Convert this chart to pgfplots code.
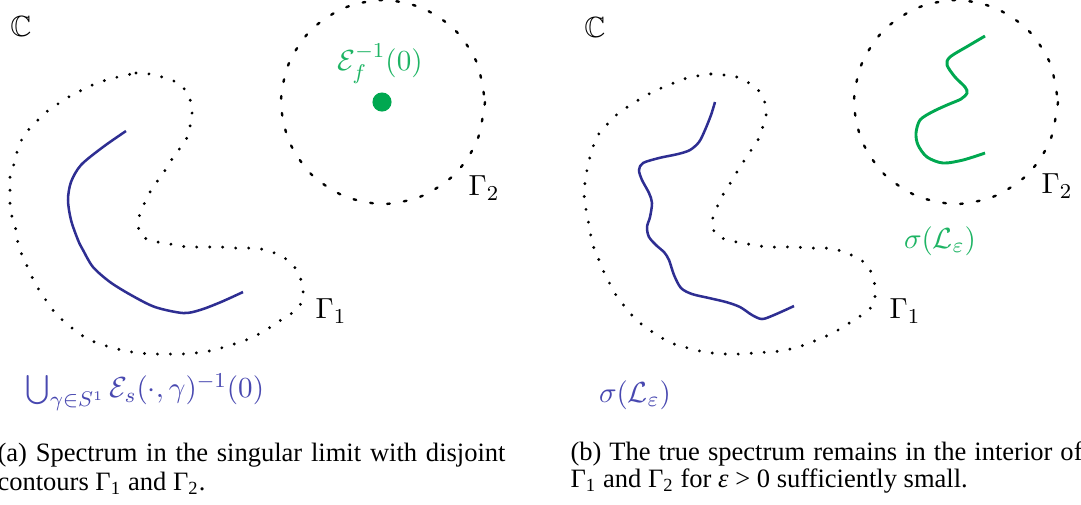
\documentclass[border=0pt]{standalone}
\usepackage{amssymb}
\usepackage{fontspec}
\setmainfont{Liberation Serif}
\usepackage{pgfplots}
\pgfplotsset{compat=1.18}

\newdimen\px \px=0.377pt
\definecolor{curveblue}{RGB}{46,46,146}
\definecolor{labelblue}{RGB}{72,72,176}
\definecolor{curvegreen}{RGB}{0,168,80}
\definecolor{labelgreen}{RGB}{30,180,100}

\tikzset{
  kidney/.style={black, line width=1.2pt, line cap=round, dash pattern=on 0pt off 4.9pt, smooth},
  ringdots/.style={black, line width=0.9pt, line cap=round, dash pattern=on 1.0pt off 5.4pt, smooth},
  lbl/.style={font=\fontsize{11}{13}\selectfont, inner sep=0pt},
  captext/.style={font=\fontsize{10}{12}\selectfont, inner sep=0pt, anchor=base west},
}

\begin{document}
\begin{tikzpicture}
\begin{axis}[
    width=1081\px, height=504\px,
    scale only axis,
    xmin=0, xmax=1081, ymin=0, ymax=504,
    y dir=reverse,
    hide axis,
    clip=false,
]

% ---- (a) ----
% Gamma_1
\addplot[kidney] coordinates {
  (136,73)(150,74)(162,77)(176,82)(186,91)(191,103)(192,116)(189,130)(185,142)
  (176,153)(169,164)(162,175)(153,187)(147,198)(141,211)(138,223)(141,235)
  (152,241)(166,243)(179,246)(193,247)(207,247)(221,247)(234,248)(248,248)(261,249)
  (272,252)(283,257)(293,265)(300,277)(303,290)(302,302)(292,313)(281,320)(269,328)
  (257,335)(246,340)(234,344)(221,348)(209,351)(195,353)(181,354)(167,354)(153,354)
  (140,353)(126,351)(114,348)(100,344)(88,339)(77,332)(66,323)(56,314)(48,303)
  (41,293)(34,281)(28,268)(22,255)(18,243)(16,230)(12,217)(10,203)(10,190)(10,177)
  (14,164)(17,152)(22,139)(30,128)(40,118)(50,109)(61,102)(72,95)(84,89)(97,83)
  (110,79)(122,76)(136,73)
};
% Gamma_2
\addplot[ringdots] coordinates {
  (485,102)(477,141)(455,174)(422,196)(383,204)(344,196)(311,174)(289,141)
  (281,102)(289,63)(311,30)(344,8)(383,0)(422,8)(455,30)(477,63)(485,102)
};
\addplot[curveblue, line width=0.95pt, smooth] coordinates {
  (126,131)(103,147)(81,165)(71,182)(68,200)(71,220)(78,240)(83,250)
  (93,267)(110,282)(131,295)(155,307)(183,313)(200,310)(221,302)(243,292)
};
\addplot[only marks, mark=*, mark size=3.4pt, curvegreen] coordinates {(382,102)};

\node[lbl] at (axis cs:21,26) {$\mathbb{C}$};
\node[lbl, text=labelgreen] at (axis cs:380,64) {$\mathcal{E}_f^{-1}(0)$};
\node[lbl] at (axis cs:484,188) {$\Gamma_2$};
\node[lbl] at (axis cs:331,311) {$\Gamma_1$};
\node[lbl, text=labelblue] at (axis cs:145,392) {$\bigcup_{\gamma\in S^1}\mathcal{E}_s(\cdot,\gamma)^{-1}(0)$};

\node[captext] at (axis cs:-3,461) {\makebox[508\px][s]{(a) Spectrum in the singular limit with disjoint}};
\node[captext] at (axis cs:-3,490) {contours Γ\textsubscript{1} and Γ\textsubscript{2}.};

% ---- (b) ----
\addplot[kidney] coordinates {
  (711,74)(724,75)(737,77)(749,83)(759,91)(765,103)(766,117)(762,129)(757,142)
  (749,153)(742,164)(735,175)(728,187)(721,198)(716,210)(712,222)(716,235)
  (728,240)(742,243)(754,245)(768,247)(781,247)(795,247)(809,248)(823,248)(835,249)
  (843,252)(856,257)(867,265)(873,277)(875,289)(874,303)(866,312)(854,320)(843,327)
  (831,334)(819,339)(807,344)(794,348)(781,351)(768,352)(754,353)(740,354)(726,354)
  (712,353)(700,351)(688,348)(674,344)(662,338)(651,331)(640,323)(630,313)(622,303)
  (614,292)(608,280)(602,268)(597,255)(592,243)(590,230)(587,215)(585,203)(584,190)
  (586,177)(588,164)(592,151)(596,138)(604,128)(614,117)(623,110)(635,102)(647,95)
  (659,89)(671,84)(684,79)(697,76)(711,74)
};
\addplot[ringdots] coordinates {
  (1058,102)(1050,141)(1028,174)(995,196)(956,204)(917,196)(884,174)(862,141)
  (854,102)(862,63)(884,30)(917,8)(956,0)(995,8)(1028,30)(1050,63)(1058,102)
};
\addplot[curveblue, line width=0.95pt, smooth] coordinates {
  (715,102)(711,115)(705,130)(699,142)(690,150)(678,154)(659,158)(643,163)
  (639,170)(642,180)(649,193)(652,203)(650,217)(647,227)(649,237)(657,246)
  (664,252)(669,260)(674,275)(681,288)(692,294)(709,298)(726,302)(740,307)
  (752,315)(762,319)(774,315)(794,306)
};
\addplot[curvegreen, line width=1.1pt, smooth] coordinates {
  (985,36)(968,46)(950,57)(947,65)(955,77)(965,87)(967,93)(961,99)
  (947,105)(932,112)(920,120)(916,133)(918,145)(927,157)(943,163)(963,160)(985,153)
};

\node[lbl] at (axis cs:595,27) {$\mathbb{C}$};
\node[lbl] at (axis cs:1057,186) {$\Gamma_2$};
\node[lbl] at (axis cs:905,311) {$\Gamma_1$};
\node[lbl, text=labelgreen] at (axis cs:940,241) {$\sigma(\mathcal{L}_\varepsilon)$};
\node[lbl, text=labelblue] at (axis cs:635,395) {$\sigma(\mathcal{L}_\varepsilon)$};

\node[captext] at (axis cs:570,460) {\makebox[512\px][s]{(b) The true spectrum remains in the interior of}};
\node[captext] at (axis cs:570,487) {Γ\textsubscript{1} and Γ\textsubscript{2} for \textit{ε} > 0 sufficiently small.};

\end{axis}
\pgfresetboundingbox
\path (current axis.south west) rectangle (current axis.north east);
\end{tikzpicture}
\end{document}
